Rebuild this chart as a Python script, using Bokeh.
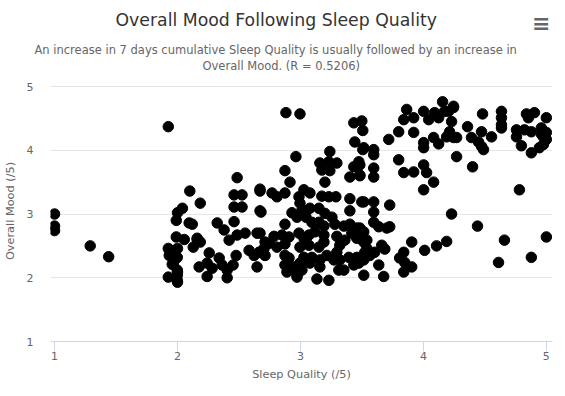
from bokeh.plotting import figure
from bokeh.models import Range1d, Title, FixedTicker, ColumnDataSource
from bokeh.embed import file_html
from bokeh.resources import INLINE

title_text = "Overall Mood Following Sleep Quality"
subtitle_1 = "An increase in 7 days cumulative Sleep Quality is usually followed by an increase in"
subtitle_2 = "Overall Mood. (R = 0.5206)"
x_label = "Sleep Quality (/5)"
y_label = "Overall Mood (/5)"
x_ticks = [1, 2, 3, 4, 5]
y_ticks = [1, 2, 3, 4, 5]

sleep_quality = [
    1.0, 1.0, 1.0, 1.29, 1.44, 1.925,
    1.925, 1.925, 2.0, 2.04, 1.99, 1.99, 2.055, 2.0, 1.94, 1.99, 1.966, 2.0, 2.0, 2.10,
    2.095, 2.12, 2.128, 2.16, 2.176, 2.185,
    2.485, 2.46, 2.525, 2.46, 2.525, 2.671, 2.679, 2.323, 2.379, 2.42, 2.46, 2.485,
    2.55, 2.647, 2.712, 2.16, 2.185, 1.982, 1.933, 1.998, 1.957, 1.998, 1.998, 1.998,
    2.258, 2.241, 2.282, 2.241, 2.339, 2.363, 2.404, 2.452, 2.477, 2.404, 2.582, 2.623,
    2.663, 2.704, 2.647,
    2.882, 2.996, 3.434, 3.499, 3.507, 3.442, 3.507, 3.239, 2.963, 3.158, 3.231, 3.296,
    3.174, 3.239, 3.199, 2.874, 2.915, 3.434, 3.475, 3.402, 3.483,
    2.671, 2.769, 2.809, 2.874, 3.028, 3.077, 2.988, 3.174, 3.231, 3.288, 3.402, 3.499,
    2.671, 2.996, 3.012, 3.077, 3.150, 3.199, 3.402, 2.931, 2.972, 3.045, 3.093, 3.150,
    3.191, 3.256, 3.280, 3.353, 3.402, 3.458, 2.874,
    2.671, 2.785, 2.850, 2.907, 2.744, 2.809, 2.874,
    2.988, 3.028, 3.069, 3.118, 3.191, 2.996, 3.069, 3.150, 3.191,
    3.296, 3.361, 3.320, 3.418, 3.483, 3.515, 2.712, 2.671,
    2.874, 2.907, 3.028, 3.093, 3.158, 3.215, 3.296, 3.320, 3.394, 3.458, 3.515,
    2.874, 2.947, 2.996, 3.077, 3.158, 3.272, 3.434, 3.475,
    2.890, 2.972, 3.012, 3.312, 3.353, 3.134, 3.231, 2.972, 3.515,
    4.156, 3.864, 4.002, 4.091, 4.172, 4.245, 3.840, 3.921, 4.043, 4.124, 4.229, 3.799,
    3.921, 3.718, 4.002, 4.083, 4.124, 4.189, 4.245, 4.002,
    3.515, 3.596, 3.596, 3.483, 3.483, 3.596, 3.596,
    3.799, 3.840, 3.921, 4.002, 4.026, 4.083, 4.002, 4.270,
    3.515, 3.596, 3.596, 3.726, 4.229,
    3.483, 3.515, 3.596, 3.637, 3.702, 3.726,
    3.458, 3.540, 3.540, 3.661, 3.686, 3.523, 3.564, 3.604,
    3.905, 4.010, 4.107, 4.189, 3.840, 3.807, 3.848, 3.905, 3.840, 3.637, 3.677,
    4.245, 4.205, 4.213, 4.270, 4.359, 4.481, 4.635, 4.635, 4.635, 4.635, 4.473, 4.391,
    4.448, 4.473, 4.489, 4.554, 4.400,
    4.838, 4.903, 4.854, 5.0, 4.757, 4.822, 4.878, 4.757, 4.959, 4.976, 5.0, 4.976,
    4.797, 4.878, 4.943, 4.781, 5.0, 4.96,
    4.440, 4.659, 5.0, 4.611, 4.878,
]
overall_mood = [
    3.0, 2.81, 2.74, 2.50, 2.33, 4.37,
    2.46, 2.01, 3.02, 3.09, 2.9, 2.64, 2.6, 2.46, 2.38, 2.31, 2.23, 2.09, 1.93, 3.36,
    2.86, 2.84, 2.48, 2.6, 2.17, 3.17,
    3.57, 3.30, 3.30, 3.11, 3.11, 3.36, 3.03, 2.86, 2.75, 2.59, 2.88, 2.67,
    2.70, 2.70, 2.56, 2.62, 2.56, 2.43, 2.35, 2.32, 2.21, 2.12, 2.04, 1.96,
    2.39, 2.23, 2.15, 2.02, 2.31, 2.20, 2.12, 2.20, 2.35, 2.0, 2.43, 2.35,
    2.40, 2.46, 2.17,
    4.59, 4.57, 4.43, 4.46, 4.31, 4.13, 4.01, 3.98, 3.90, 3.80, 3.82, 3.80,
    3.69, 3.68, 3.50, 3.68, 3.50, 3.74, 3.82, 3.58, 3.60,
    3.39, 3.33, 3.27, 3.33, 3.38, 3.33, 3.27, 3.28, 3.27, 3.27, 3.24, 3.19,
    3.05, 3.17, 3.06, 3.09, 3.09, 3.01, 3.05, 3.02, 2.95, 2.95, 2.87, 2.87,
    2.81, 2.95, 2.84, 2.81, 2.84, 2.78, 2.84,
    2.70, 2.65, 2.67, 2.64, 2.54, 2.48, 2.53,
    2.70, 2.62, 2.67, 2.72, 2.67, 2.48, 2.51, 2.48, 2.56,
    2.65, 2.59, 2.51, 2.70, 2.67, 2.56, 2.35, 2.40,
    2.35, 2.31, 2.32, 2.32, 2.28, 2.35, 2.40, 2.28, 2.32, 2.32, 2.28,
    2.20, 2.17, 2.23, 2.23, 2.17, 2.28, 2.20, 2.23,
    2.09, 2.04, 2.12, 2.12, 2.12, 1.98, 1.96, 2.01, 2.04,
    4.76, 4.64, 4.61, 4.59, 4.61, 4.67, 4.48, 4.51, 4.48, 4.51, 4.45, 4.29,
    4.28, 4.17, 4.12, 4.20, 4.10, 4.21, 4.20, 4.04,
    4.04, 4.01, 3.93, 3.77, 3.61, 3.72, 3.58,
    3.85, 3.65, 3.66, 3.77, 3.65, 3.50, 3.38, 3.90,
    3.19, 3.19, 3.03, 3.14, 3.0,
    2.78, 2.72, 2.87, 2.80, 2.78, 2.80,
    2.62, 2.59, 2.46, 2.51, 2.45, 2.40, 2.35, 2.40,
    2.56, 2.43, 2.50, 2.57, 2.40, 2.31, 2.24, 2.17, 2.09, 2.20, 2.02,
    4.69, 4.61, 4.29, 4.20, 4.37, 4.57, 4.61, 4.51, 4.40, 4.35, 4.29, 4.20,
    4.13, 4.06, 4.01, 4.21, 3.74,
    4.57, 4.59, 4.51, 4.51, 4.32, 4.32, 4.29, 4.21, 4.35, 4.21, 4.17, 4.09,
    4.07, 3.96, 4.04, 3.38, 4.28, 4.25,
    2.81, 2.59, 2.64, 2.24, 2.32,
]

FONT = "DejaVu Sans"
PX_PER_Y = 63.75          # pixels per mood unit
FRAME_H = 261             # frame slightly taller than 1..5 to leave room for titles
Y_TOP = 1 + FRAME_H / PX_PER_Y

p = figure(frame_width=502, frame_height=FRAME_H, output_backend="svg", toolbar_location=None,
           x_range=Range1d(0.967, 5.05), y_range=Range1d(1, Y_TOP),
           min_border_left=48, min_border_right=7, min_border_bottom=47,
           min_border_top=0, background_fill_color="white", border_fill_color="white")
p.outline_line_color = None
p.title.visible = False

src = ColumnDataSource(dict(x=sleep_quality, y=overall_mood))
p.scatter("x", "y", source=src, size=10.5, fill_color="black", line_color="black")

# axes
p.xaxis.ticker = FixedTicker(ticks=x_ticks)
p.yaxis.ticker = FixedTicker(ticks=y_ticks)
p.xaxis.axis_label = x_label
p.yaxis.axis_label = y_label
for ax in (p.xaxis[0], p.yaxis[0]):
    ax.axis_label_text_font = FONT
    ax.axis_label_text_font_size = "11.3px"
    ax.axis_label_text_color = "#666666"
    ax.axis_label_text_font_style = "normal"
    ax.major_label_text_font = FONT
    ax.major_label_text_font_size = "11px"
    ax.major_label_text_color = "#666666"
    ax.minor_tick_line_color = None

p.xaxis.axis_line_color = "#ccd6eb"
p.xaxis.major_tick_line_color = "#ccd6eb"
p.xaxis.major_tick_out = 10
p.xaxis.major_tick_in = 0
p.xaxis.major_label_standoff = 0
p.xaxis.axis_label_standoff = 5

p.yaxis.axis_line_color = None
p.yaxis.major_tick_line_color = None
p.yaxis.major_tick_out = 0
p.yaxis.major_tick_in = 0
p.yaxis.major_label_standoff = 17
p.yaxis.axis_label_standoff = 7

p.xgrid.grid_line_color = None
p.ygrid.grid_line_color = "#e6e6e6"


def est_h(size):
    return 1.17 * size


def title(text, size, color, align="left", offset=0, standoff=0, style="normal"):
    t = Title(text=text, align=align, offset=offset, standoff=standoff,
              text_font=FONT, text_font_size=f"{size}px", text_color=color,
              text_font_style=style, vertical_align="bottom")
    p.add_layout(t, "above")


def spacer(height):
    title(" ", 1, "#ffffff", standoff=height - 2 - est_h(1))


# stacked from the frame upwards
title(subtitle_2, 11.5, "#666666", offset=152, standoff=28.5 - est_h(11.5))
title(subtitle_1, 11.5, "#666666", offset=-16, standoff=-(2 + est_h(11.5)))
spacer(26.4)
title("\u2261", 22, "#666666", align="right", offset=2, standoff=-(2 + est_h(22)), style="bold")
spacer(4.4)
title(title_text, 17.3, "#333333", offset=65, standoff=-(2 + est_h(17.3)))
spacer(17.6)

open("out.html", "w").write(file_html(p, INLINE))
